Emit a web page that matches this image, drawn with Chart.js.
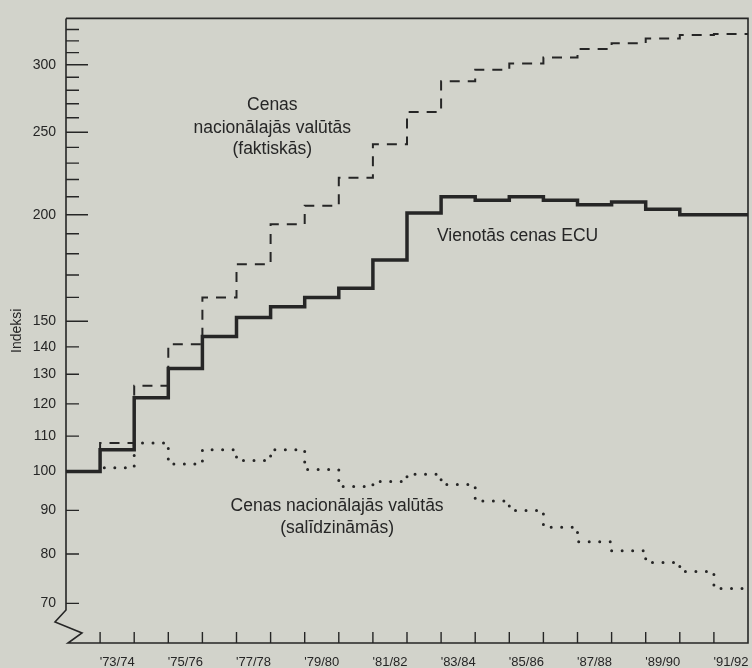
<!DOCTYPE html>
<html>
<head>
<meta charset="utf-8">
<script src="https://cdn.jsdelivr.net/npm/chart.js@4/dist/chart.umd.min.js"></script>
<style>
  html, body { margin: 0; padding: 0; background: #d2d3cb; }
  #wrap { width: 752px; height: 668px; }
</style>
</head>
<body>
<div id="wrap"><canvas id="chart" width="752" height="668"></canvas></div>
<script>
// marketing years, one value per year
const seasons = ["'72/73", "'73/74", "'74/75", "'75/76", "'76/77", "'77/78", "'78/79", "'79/80", "'80/81", "'81/82",
  "'82/83", "'83/84", "'84/85", "'85/86", "'86/87", "'87/88", "'88/89", "'89/90", "'90/91", "'91/92"];

const ecuPrices = [100, 106, 122, 132, 144, 151.5, 156, 160, 164, 177, 201, 210, 208, 210, 208, 205.5, 207, 203, 200, 200];
const nationalActual = [100, 108, 126, 141, 160, 175, 195, 205, 221, 242, 264, 287, 296, 301, 306, 313, 318, 322, 325, 326];
const nationalReal = [100, 101, 108, 102, 106, 103, 106, 100.5, 96, 97.3, 99.2, 96.5, 92.3, 90, 86, 82.7, 80.7, 78.2, 76.3, 72.9];

// y axis ticks (log scale), labelled ones and the long marks
const yTicks = [70, 80, 90, 100, 110, 120, 130, 140, 150, 160, 170, 180, 190, 200, 210, 220, 230, 240,
  250, 260, 270, 280, 290, 300, 310, 320, 330];
const yLabels = [70, 80, 90, 100, 110, 120, 130, 140, 150, 200, 250, 300];
const yLong = [150, 200, 250, 300];

const ink = "#262626";
const paper = "#d2d3cb";
const font = "'Liberation Sans', Arial, Helvetica, sans-serif";

// step series: one point per year start, last year repeated at the right edge
function steps(values) {
  const pts = values.map((v, i) => ({ x: i, y: v }));
  pts.push({ x: values.length, y: values[values.length - 1] });
  return pts;
}

// text on the plot, anchored in data units
const notes = [
  { x: 6.05, y: 269, text: "Cenas", align: "center" },
  { x: 6.05, y: 253, text: "nacionālajās valūtās", align: "center" },
  { x: 6.05, y: 239, text: "(faktiskās)", align: "center" },
  { x: 10.88, y: 189, text: "Vienotās cenas ECU", align: "left" },
  { x: 7.95, y: 91.1, text: "Cenas nacionālajās valūtās", align: "center" },
  { x: 7.95, y: 85.8, text: "(salīdzināmās)", align: "center" },
];

const paperPlugin = {
  id: "paper",
  beforeDraw(chart) {
    const ctx = chart.ctx;
    ctx.save();
    ctx.fillStyle = paper;
    ctx.fillRect(0, 0, chart.width, chart.height);
    ctx.restore();
  },
  afterDatasetsDraw(chart) {
    const { ctx, scales } = chart;
    ctx.save();
    ctx.fillStyle = ink;
    ctx.font = "17.5px " + font;
    ctx.textBaseline = "middle";
    notes.forEach((n) => {
      ctx.textAlign = n.align;
      ctx.fillText(n.text, scales.x.getPixelForValue(n.x), scales.y.getPixelForValue(n.y));
    });
    ctx.restore();
  },
  afterDraw(chart) {
    const { ctx, chartArea: a, scales } = chart;
    ctx.save();
    ctx.strokeStyle = ink;
    ctx.lineWidth = 1.6;
    ctx.lineJoin = "miter";
    // frame, x axis and broken y axis
    ctx.beginPath();
    ctx.moveTo(a.left, a.top);
    ctx.lineTo(a.right, a.top);
    ctx.lineTo(a.right, a.bottom);
    ctx.lineTo(a.left + 2, a.bottom);
    ctx.lineTo(a.left + 16, a.bottom - 10);
    ctx.lineTo(a.left - 11, a.bottom - 21);
    ctx.lineTo(a.left, a.bottom - 33);
    ctx.lineTo(a.left, a.top);
    ctx.stroke();

    // tick marks pointing inwards
    ctx.lineWidth = 1.4;
    ctx.beginPath();
    yTicks.forEach((v) => {
      const py = scales.y.getPixelForValue(v);
      const len = yLong.includes(v) ? 22 : 13;
      ctx.moveTo(a.left, py);
      ctx.lineTo(a.left + len, py);
    });
    for (let i = 1; i < seasons.length; i++) {
      const px = scales.x.getPixelForValue(i);
      ctx.moveTo(px, a.bottom);
      ctx.lineTo(px, a.bottom - 11);
    }
    ctx.stroke();
    ctx.restore();
  },
};

new Chart(document.getElementById("chart"), {
  type: "line",
  data: {
    datasets: [
      {
        label: "Vienotās cenas ECU",
        data: steps(ecuPrices),
        borderColor: ink,
        borderWidth: 3.5,
        stepped: true,
        pointRadius: 0,
      },
      {
        label: "Cenas nacionālajās valūtās (faktiskās)",
        data: steps(nationalActual),
        borderColor: ink,
        borderWidth: 2,
        borderDash: [10, 8],
        stepped: true,
        pointRadius: 0,
      },
      {
        label: "Cenas nacionālajās valūtās (salīdzināmās)",
        data: steps(nationalReal),
        borderColor: ink,
        borderWidth: 3,
        borderDash: [0, 10.5],
        borderCapStyle: "round",
        stepped: true,
        pointRadius: 0,
      },
    ],
  },
  options: {
    responsive: false,
    animation: false,
    events: [],
    layout: { padding: { top: 13, right: 4, left: 0, bottom: 0 } },
    plugins: {
      legend: { display: false },
      tooltip: { enabled: false },
    },
    scales: {
      x: {
        type: "linear",
        min: 0,
        max: seasons.length,
        bounds: "data",
        grid: { display: false },
        border: { display: false },
        afterBuildTicks: (scale) => {
          // one label in the middle of every second year
          scale.ticks = seasons
            .map((s, i) => i)
            .filter((i) => i % 2 === 1)
            .map((i) => ({ value: i + 0.5 }));
        },
        afterFit: (scale) => {
          scale.height = 25;
          scale.paddingLeft = 0;
          scale.paddingRight = 0;
        },
        ticks: {
          autoSkip: false,
          maxRotation: 0,
          padding: 4,
          color: ink,
          font: { family: font, size: 13 },
          callback: (value) => seasons[Math.floor(value)],
        },
      },
      y: {
        type: "logarithmic",
        min: 62.9,
        max: 340,
        bounds: "data",
        grid: { display: false, drawTicks: false },
        border: { display: false },
        afterBuildTicks: (scale) => {
          scale.ticks = yTicks.map((v) => ({ value: v }));
        },
        afterFit: (scale) => {
          scale.width = 66;
        },
        title: {
          display: true,
          text: "Indeksi",
          color: ink,
          font: { family: font, size: 14 },
          padding: { top: 9, bottom: 0 },
        },
        ticks: {
          autoSkip: false,
          padding: 10,
          color: ink,
          font: { family: font, size: 14 },
          callback: (value) => (yLabels.includes(value) ? String(value) : ""),
        },
      },
    },
  },
  plugins: [paperPlugin],
});
</script>
</body>
</html>
